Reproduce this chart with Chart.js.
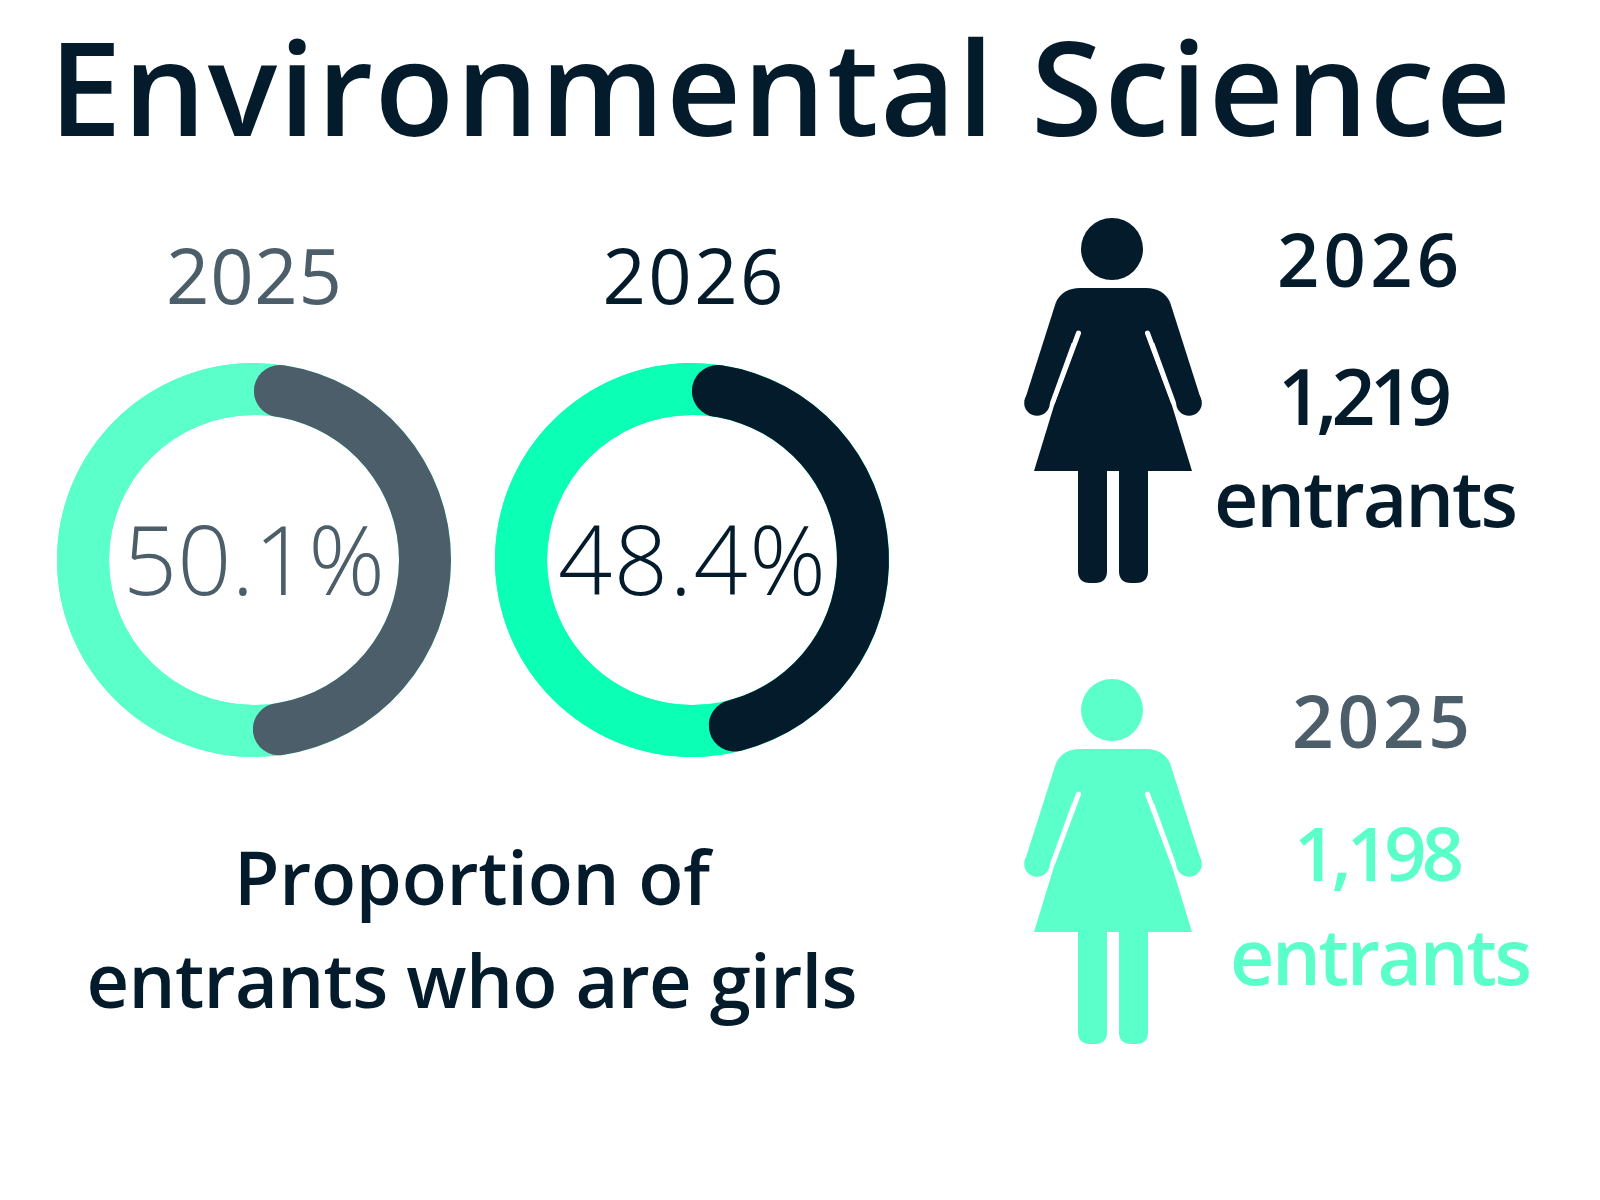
<!DOCTYPE html>
<html>
<head>
<meta charset="utf-8">
<script src="https://cdn.jsdelivr.net/npm/chart.js@4.4.1/dist/chart.umd.min.js"></script>
<style>
html, body { margin: 0; padding: 0; background: #ffffff; }
#stage { position: relative; width: 1600px; height: 1200px; overflow: hidden; background: #ffffff; }
#stage canvas { position: absolute; }
#overlay { position: absolute; left: 0; top: 0; pointer-events: none; }
#overlay text { font-family: "Open Sans", "Noto Sans", sans-serif; }
</style>
</head>
<body>
<div id="stage">
  <canvas id="donut2025" width="440" height="440" style="left:34px;top:340px"></canvas>
  <canvas id="donut2026" width="440" height="440" style="left:472px;top:340px"></canvas>
  <svg id="overlay" width="1600" height="1200" viewBox="0 0 1600 1200" xmlns="http://www.w3.org/2000/svg"></svg>
</div>
<script>
// ---------- data ----------
const years = ['2025', '2026'];
const girlsShare = [50.1, 48.4];          // % of entrants who are girls
const girlsEntrants = [1198, 1219];       // number of girl entrants
const segmentLabels = ['Girls', 'Boys'];
const titleText = 'Environmental Science';
const captionLines = ['Proportion of', 'entrants who are girls'];
const entrantsWord = 'entrants';

// ---------- style ----------
const NAVY = '#031B2A';
const SLATE = '#4B5E69';
const MINT = '#5AFFCA';
const GREEN = '#0BFFB5';
const arcColors = [SLATE, NAVY];
const ringColors = [MINT, GREEN];
const pctColors = [SLATE, NAVY];

// background ring so the rounded caps sit on top of the remainder colour
const ringPlugin = {
  id: 'ring',
  beforeDatasetsDraw(chart, args, opts) {
    const arc = chart.getDatasetMeta(0).data[0];
    if (!arc) return;
    const p = arc.getProps(['x', 'y', 'innerRadius', 'outerRadius'], true);
    const ctx = chart.ctx;
    ctx.save();
    ctx.beginPath();
    ctx.arc(p.x, p.y, p.outerRadius, 0, Math.PI * 2);
    ctx.arc(p.x, p.y, p.innerRadius, 0, Math.PI * 2, true);
    ctx.closePath();
    ctx.fillStyle = opts.color;
    ctx.fill();
    ctx.restore();
  }
};

years.forEach((yr, i) => {
  const share = girlsShare[i];
  new Chart(document.getElementById('donut' + yr), {
    type: 'doughnut',
    data: {
      labels: segmentLabels,
      datasets: [{
        data: [share, +(100 - share).toFixed(1)],
        backgroundColor: [arcColors[i], ringColors[i]],
        borderWidth: 0,
        borderRadius: [30, 0],
        hoverOffset: 0
      }]
    },
    options: {
      responsive: false,
      animation: false,
      events: [],
      radius: 197,
      cutout: (145 / 197 * 100) + '%',
      rotation: 0,
      layout: { padding: 0 },
      plugins: {
        legend: { display: false },
        tooltip: { enabled: false },
        title: { display: false },
        ring: { color: ringColors[i] }
      }
    },
    plugins: [ringPlugin]
  });
});

// ---------- text & pictograms (SVG) ----------
const svg = document.getElementById('overlay');
const NS = 'http://www.w3.org/2000/svg';
function el(tag, attrs, parent) {
  const e = document.createElementNS(NS, tag);
  for (const k in attrs) e.setAttribute(k, attrs[k]);
  (parent || svg).appendChild(e);
  return e;
}
function txt(str, x, y, size, weight, color, len) {
  const t = el('text', {
    x: x, y: y, 'text-anchor': 'middle', 'font-size': size, 'font-weight': weight,
    fill: color, textLength: len, lengthAdjust: 'spacing'
  });
  t.textContent = str;
  return t;
}
const fmt = n => n.toLocaleString('en-GB');

// title
txt(titleText, 780, 136, 130, 600, NAVY, 1462);

// donut year labels
txt(years[0], 254, 304, 76, 400, SLATE, 176);
txt(years[1], 693, 304, 76, 400, NAVY, 181);

// donut centre percentages
txt(girlsShare[0].toFixed(1) + '%', 254, 595, 95, 300, pctColors[0], 262);
txt(girlsShare[1].toFixed(1) + '%', 692, 595, 95, 300, pctColors[1], 268);

// caption
txt(captionLines[0], 472, 905, 74, 600, NAVY, 476);
txt(captionLines[1], 472, 1008, 74, 600, NAVY, 771);

// pictogram of a girl, local origin = (centre x, head top)
function girl(ox, oy, color) {
  const g = el('g', { transform: 'translate(' + ox + ',' + oy + ')' });
  el('circle', { cx: -1, cy: 31, r: 31, fill: color }, g);
  // torso with rounded shoulders
  el('path', { d: 'M -33 70 H 33 Q 50 70 57 84 L 42 125 H -42 L -57 84 Q -50 70 -33 70 Z', fill: color }, g);
  // skirt
  el('path', { d: 'M -27 100 L 27 100 L 58.5 186 L 79 253 L -79 253 L -58.5 186 Z', fill: color }, g);
  [-1, 1].forEach(s => {
    // slit between arm and skirt
    el('line', { x1: s * 34.5, y1: 115, x2: s * 60.3, y2: 184, stroke: '#ffffff', 'stroke-width': 5, 'stroke-linecap': 'round' }, g);
    // arm + hand
    el('path', { d: 'M ' + (s * 57) + ' 84 L ' + (s * 88.5) + ' 183 L ' + (s * 63.5) + ' 186 L ' + (s * 37) + ' 113 Z', fill: color }, g);
    el('circle', { cx: s * 76, cy: 185, r: 12.8, fill: color }, g);
  });
  // legs
  el('path', { d: 'M -35 252 H -6 V 353 Q -6 365 -18 365 H -23 Q -35 365 -35 353 Z', fill: color }, g);
  el('path', { d: 'M 6 252 H 35 V 353 Q 35 365 23 365 H 18 Q 6 365 6 353 Z', fill: color }, g);
}
girl(1113, 218, NAVY);
girl(1113, 679, MINT);

// right-hand figures
txt(years[1], 1368, 287, 74, 600, NAVY, 182);
txt(fmt(girlsEntrants[1]), 1365, 425, 77, 600, NAVY, 174);
txt(entrantsWord, 1366, 527, 77, 600, NAVY, 304);

txt(years[0], 1381, 748, 73, 600, SLATE, 178);
txt(fmt(girlsEntrants[0]), 1379, 881, 74, 600, MINT, 170);
txt(entrantsWord, 1381, 985, 77, 600, MINT, 302);
</script>
</body>
</html>
